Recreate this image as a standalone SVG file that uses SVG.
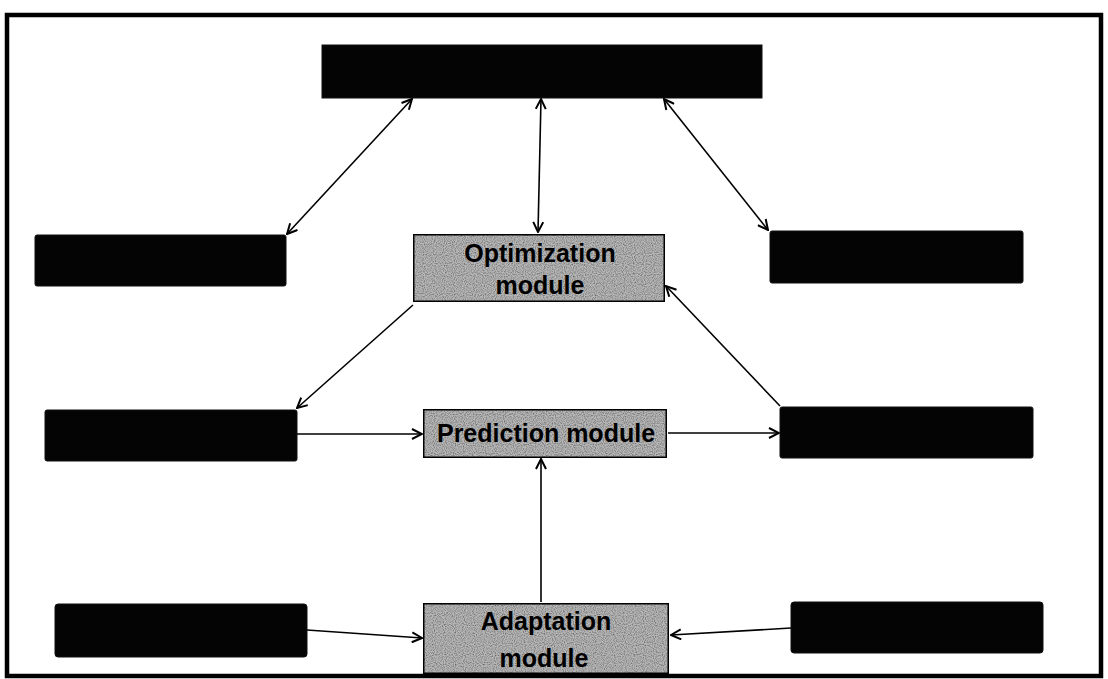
<svg xmlns="http://www.w3.org/2000/svg" width="1108" height="679" viewBox="0 0 1108 679">
  <style>
    .blk { fill: #040404; stroke: #111; stroke-width: 1; }
    .mod { fill: #b8b8b8; stroke: #000; stroke-width: 3; }
    .lbl { font-family: "Liberation Sans", Arial, sans-serif; font-weight: bold; font-size: 25px; fill: #000; text-anchor: middle; }
    .conn { fill: none; stroke: #000; stroke-width: 1.6; }
  </style>
  <defs>
    <marker id="ah" viewBox="0 0 12 12" refX="11" refY="6" markerWidth="12" markerHeight="12" markerUnits="userSpaceOnUse" orient="auto-start-reverse">
      <path d="M1,1 L11,6 L1,11" fill="none" stroke="#000" stroke-width="2"/>
    </marker>
    <filter id="grain" x="0" y="0" width="100%" height="100%">
      <feTurbulence type="fractalNoise" baseFrequency="0.9" numOctaves="1" seed="3" result="n"/>
      <feColorMatrix in="n" type="matrix" values="0 0 0 0 0  0 0 0 0 0  0 0 0 0 0  0 0 0 -1.6 1.0" result="d"/>
      <feComposite in="d" in2="SourceGraphic" operator="in" result="dm"/>
      <feMerge><feMergeNode in="SourceGraphic"/><feMergeNode in="dm"/></feMerge>
    </filter>
  </defs>

  <rect x="0" y="0" width="1108" height="679" fill="#fff"/>
  <rect id="frame" x="7" y="15" width="1094" height="661" fill="none" stroke="#000" stroke-width="4.5"/>

  <g id="connectors">
    <line class="conn" x1="412" y1="99" x2="287" y2="234" marker-start="url(#ah)" marker-end="url(#ah)"/>
    <line class="conn" x1="541" y1="99" x2="538" y2="232" marker-start="url(#ah)" marker-end="url(#ah)"/>
    <line class="conn" x1="664" y1="99" x2="768" y2="230" marker-start="url(#ah)" marker-end="url(#ah)"/>
    <line class="conn" x1="413" y1="305" x2="297" y2="408" marker-end="url(#ah)"/>
    <line class="conn" x1="780" y1="406" x2="666" y2="286" marker-end="url(#ah)"/>
    <line class="conn" x1="297" y1="434" x2="422" y2="434" marker-end="url(#ah)"/>
    <line class="conn" x1="668" y1="433" x2="779" y2="433" marker-end="url(#ah)"/>
    <line class="conn" x1="541" y1="602" x2="541" y2="459" marker-end="url(#ah)"/>
    <line class="conn" x1="307" y1="630" x2="422" y2="638" marker-end="url(#ah)"/>
    <line class="conn" x1="791" y1="628" x2="671" y2="635" marker-end="url(#ah)"/>
  </g>

  <g id="top-box"><rect class="blk" x="322" y="45" width="440" height="53"/></g>
  <g id="left-top-box"><rect class="blk" x="35" y="235" width="251" height="51" rx="2"/></g>
  <g id="right-top-box"><rect class="blk" x="770" y="231" width="253" height="52" rx="2"/></g>
  <g id="left-mid-box"><rect class="blk" x="45" y="410" width="252" height="51" rx="2"/></g>
  <g id="right-mid-box"><rect class="blk" x="780" y="407" width="253" height="51" rx="2"/></g>
  <g id="bottom-left-box"><rect class="blk" x="55" y="604" width="252" height="53" rx="3"/></g>
  <g id="bottom-right-box"><rect class="blk" x="791" y="602" width="252" height="51" rx="3"/></g>

  <g id="optimization-module">
    <rect class="mod" x="413" y="234" width="252" height="68" filter="url(#grain)"/>
    <text class="lbl" x="540" y="262">Optimization</text>
    <text class="lbl" x="540" y="294">module</text>
  </g>
  <g id="prediction-module">
    <rect class="mod" x="423" y="409" width="244" height="49" filter="url(#grain)"/>
    <text class="lbl" x="546" y="442">Prediction module</text>
  </g>
  <g id="adaptation-module">
    <rect class="mod" x="423" y="603" width="246" height="71" filter="url(#grain)"/>
    <text class="lbl" x="546" y="630">Adaptation</text>
    <text class="lbl" x="544" y="667">module</text>
  </g>
</svg>
